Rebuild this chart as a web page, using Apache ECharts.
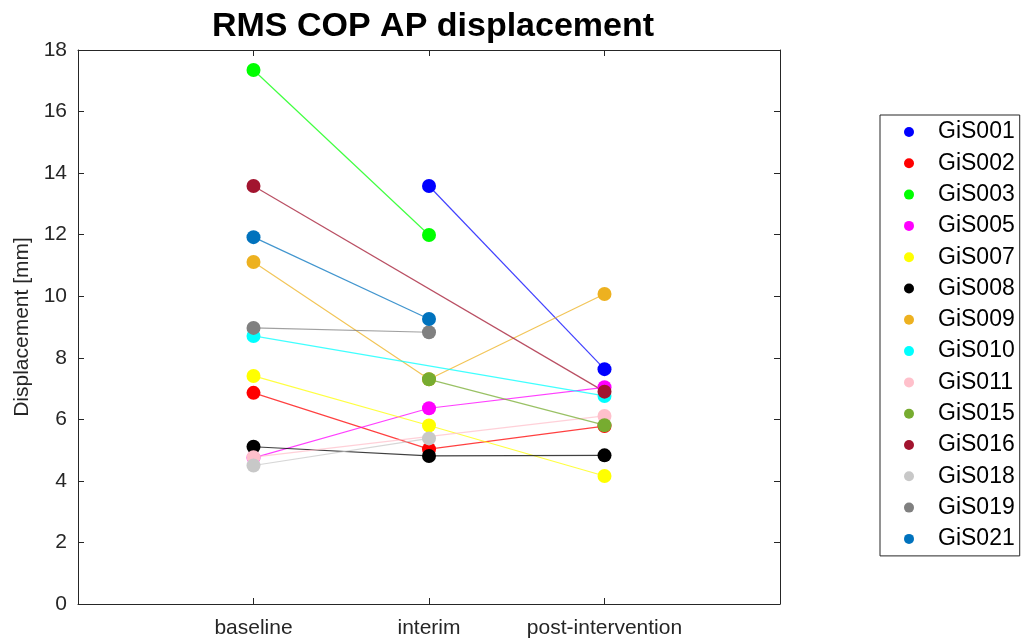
<!DOCTYPE html>
<html>
<head>
<meta charset="utf-8">
<script src="https://cdn.jsdelivr.net/npm/echarts@6/dist/echarts.min.js"></script>
<style>
  html, body { margin: 0; padding: 0; background: #fff; }
  #chart { width: 1022px; height: 642px; }
</style>
</head>
<body>
<div id="chart"></div>
<script>
// time points
var phases = ['baseline', 'interim', 'post-intervention'];
var yTicks = [0, 2, 4, 6, 8, 10, 12, 14, 16, 18];

// RMS COP AP displacement [mm] per subject (null = not measured)
var GiS001 = [null, 13.58, 7.63];
var GiS002 = [6.86, 5.03, 5.78];
var GiS003 = [17.35, 11.99, null];
var GiS005 = [4.75, 6.36, 7.04];
var GiS007 = [7.41, 5.80, 4.16];
var GiS008 = [5.11, 4.81, 4.83];
var GiS009 = [11.11, 7.30, 10.07];
var GiS010 = [8.71, null, 6.76];
var GiS011 = [4.77, null, 6.11];
var GiS015 = [null, 7.30, 5.81];
var GiS016 = [13.58, null, 6.90];
var GiS018 = [4.50, 5.38, null];
var GiS019 = [8.97, 8.83, null];
var GiS021 = [11.92, 9.26, null];

var subjects = ['GiS001', 'GiS002', 'GiS003', 'GiS005', 'GiS007', 'GiS008', 'GiS009',
                'GiS010', 'GiS011', 'GiS015', 'GiS016', 'GiS018', 'GiS019', 'GiS021'];
var values = [GiS001, GiS002, GiS003, GiS005, GiS007, GiS008, GiS009,
              GiS010, GiS011, GiS015, GiS016, GiS018, GiS019, GiS021];
var colors = ['#0000ff', '#ff0000', '#00ff00', '#ff00ff', '#ffff00', '#000000', '#EDB120',
              '#00ffff', '#ffc0cb', '#77AC30', '#A2142F', '#c8c8c8', '#808080', '#0072BD'];

var chart = echarts.init(document.getElementById('chart'), null, { renderer: 'canvas' });

// pad the category axis so the points sit at 1, 2, 3 like matlab
var axisCats = [''].concat(phases).concat(['']);

var series = subjects.map(function (name, i) {
    return {
        name: name,
        type: 'line',
        xAxisIndex: 0,
        yAxisIndex: 0,
        data: [null].concat(values[i]).concat([null]),
        connectNulls: true,
        symbol: 'circle',
        symbolSize: 14,
        showSymbol: true,
        itemStyle: { color: colors[i], opacity: 1 },
        lineStyle: { color: colors[i], width: 1.2, opacity: 0.75 },
        emphasis: { disabled: true },
        animation: false
    };
});

var axisColor = '#262626';
var font = 'Liberation Sans, Arial, Helvetica, sans-serif';

var option = {
    backgroundColor: '#fff',
    color: colors,
    title: {
        text: 'RMS COP AP displacement',
        left: 428,
        top: 5,
        textAlign: 'center',
        textStyle: { fontFamily: font, fontWeight: 'bold', fontSize: 34, color: '#000' }
    },
    grid: { left: 78, right: 242, top: 50, bottom: 38, containLabel: false },
    legend: {
        orient: 'vertical',
        left: 880,
        top: 115,
        padding: [5, 5, 5, 24],
        borderColor: '#262626',
        borderWidth: 1,
        icon: 'circle',
        itemWidth: 10,
        itemHeight: 10,
        itemGap: 7.3,
        data: subjects,
        textStyle: {
            fontFamily: font, fontSize: 23, color: '#000',
            lineHeight: 24, padding: [0, 0, 0, 19]
        }
    },
    xAxis: [{
        type: 'category',
        data: axisCats,
        boundaryGap: false,
        axisLine: { show: true, onZero: false, lineStyle: { color: axisColor, width: 1 } },
        axisTick: { show: true, inside: true, length: 6, lineStyle: { color: axisColor } },
        axisLabel: { fontFamily: font, fontSize: 21, color: '#262626', margin: 14, interval: 0 },
        splitLine: { show: false }
    }, {
        type: 'category',
        position: 'top',
        data: axisCats,
        boundaryGap: false,
        axisLine: { show: true, onZero: false, lineStyle: { color: axisColor, width: 1 } },
        axisTick: { show: true, inside: true, length: 6, lineStyle: { color: axisColor } },
        axisLabel: { show: false },
        splitLine: { show: false }
    }],
    yAxis: [{
        type: 'value',
        min: 0,
        max: yTicks[yTicks.length - 1],
        interval: 2,
        name: 'Displacement [mm]',
        nameLocation: 'middle',
        nameGap: 45,
        nameTextStyle: { fontFamily: font, fontSize: 21, color: '#262626' },
        axisLine: { show: true, onZero: false, lineStyle: { color: axisColor, width: 1 } },
        axisTick: { show: true, inside: true, length: 6, lineStyle: { color: axisColor } },
        axisLabel: { fontFamily: font, fontSize: 21, color: '#262626', margin: 11 },
        splitLine: { show: false }
    }, {
        type: 'value',
        position: 'right',
        min: 0,
        max: yTicks[yTicks.length - 1],
        interval: 2,
        axisLine: { show: true, onZero: false, lineStyle: { color: axisColor, width: 1 } },
        axisTick: { show: true, inside: true, length: 6, lineStyle: { color: axisColor } },
        axisLabel: { show: false },
        splitLine: { show: false }
    }],
    series: series
};

chart.setOption(option);
</script>
</body>
</html>
